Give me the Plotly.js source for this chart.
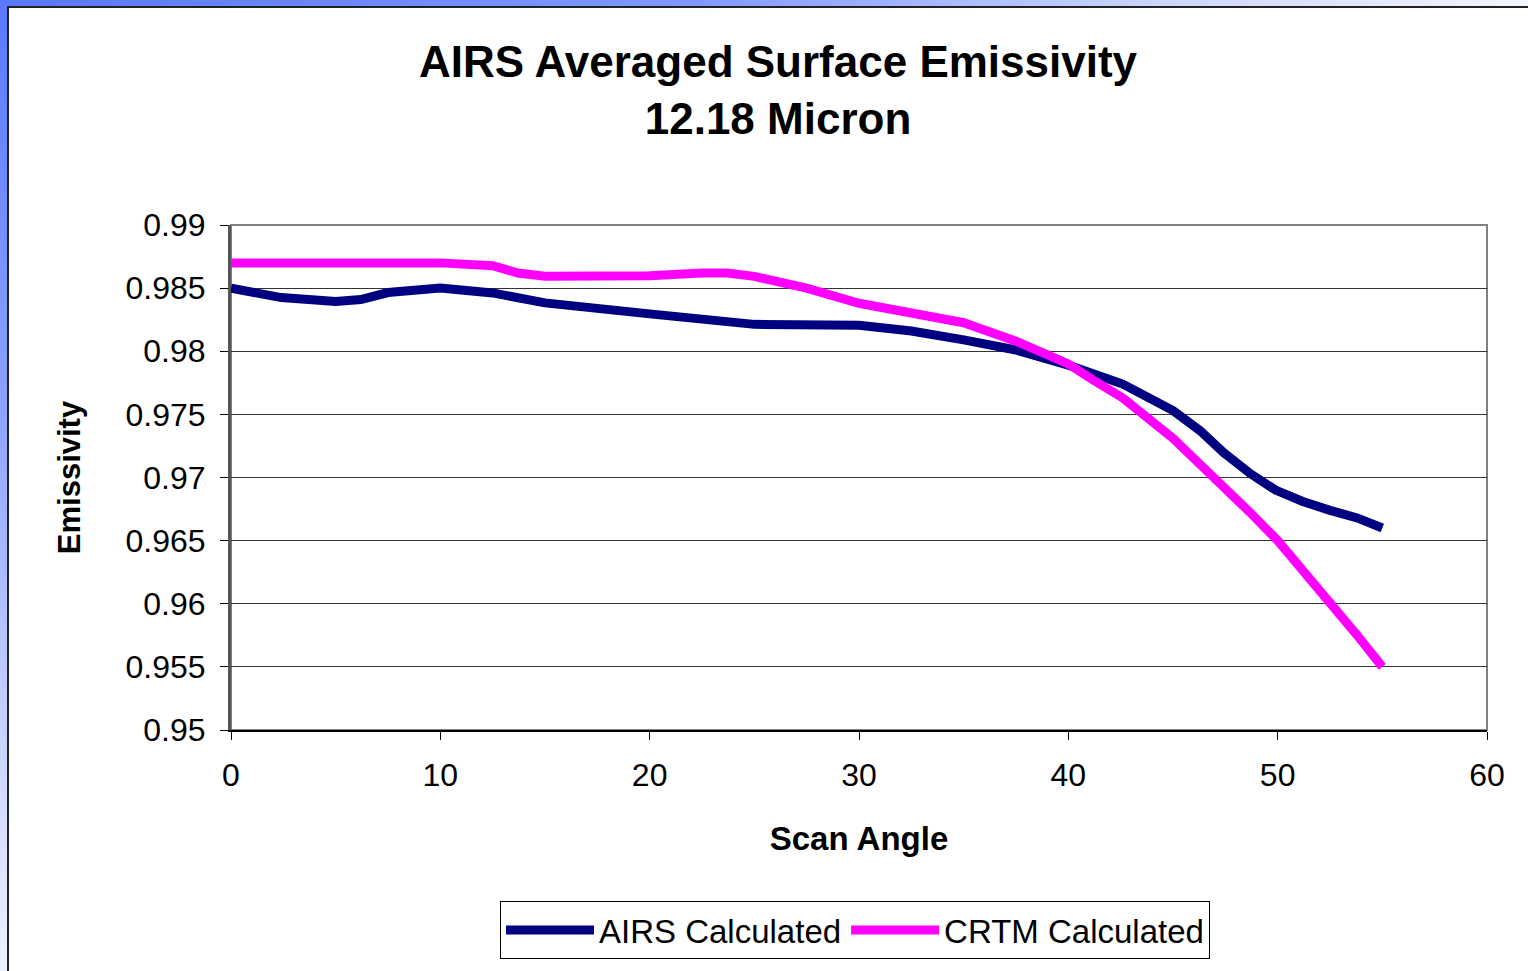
<!DOCTYPE html>
<html>
<head>
<meta charset="utf-8">
<script src="https://cdn.plot.ly/plotly-3.0.1.min.js"></script>
<style>
  html, body { margin: 0; padding: 0; background: #ffffff; width: 1528px; height: 971px; overflow: hidden; }
  #topstrip { position: absolute; left: 0; top: 0; width: 1528px; height: 6px;
    background: linear-gradient(to right, #5a78ff 0%, #7f98ff 45%, #c9d4ff 75%, #f4f6ff 100%); }
  #leftstrip { position: absolute; left: 0; top: 0; width: 7px; height: 971px;
    background: linear-gradient(to bottom, #5a78ff 0%, #8aa0ff 40%, #c8d2ff 75%, #eef1ff 100%); }
  #topline { position: absolute; left: 7px; top: 6px; width: 1521px; height: 2px; background: #222; }
  #leftline { position: absolute; left: 7px; top: 6px; width: 2px; height: 965px; background: #222; }
  #chart { position: absolute; left: 0; top: 0; width: 1528px; height: 971px; }
</style>
</head>
<body>
<div id="topstrip"></div>
<div id="leftstrip"></div>
<div id="topline"></div>
<div id="leftline"></div>
<div id="chart"></div>
<script>
// Data
const airsAngle = [0, 2.4, 5, 6.2, 7.5, 10, 12.5, 15, 20, 25, 30, 32.5, 35, 37.5, 40, 42.6, 45, 46.3, 47.4, 48.7, 49.9, 51.2, 52.5, 53.8, 55];
const airsEmis  = [0.985, 0.98425, 0.98395, 0.9841, 0.98465, 0.985, 0.98462, 0.98383, 0.98296, 0.98213, 0.98205, 0.9816, 0.9809, 0.9801, 0.9789, 0.9774, 0.9753, 0.9737, 0.9720, 0.9703, 0.9690, 0.9681, 0.9674, 0.9668, 0.9660];

const crtmAngle = [0, 2.5, 5, 7.5, 10, 12.5, 13.7, 15, 17.5, 20, 22.5, 23.7, 25, 27.5, 30, 32.5, 35, 37.5, 40, 41.2, 42.6, 45, 46.3, 47.4, 48.7, 50, 51.2, 52.5, 53.8, 55];
const crtmEmis  = [0.987, 0.987, 0.987, 0.987, 0.987, 0.98677, 0.9862, 0.98595, 0.98598, 0.98598, 0.9862, 0.9862, 0.98593, 0.9850, 0.9838, 0.9830, 0.98226, 0.9808, 0.9790, 0.9777, 0.9763, 0.9731, 0.9711, 0.9694, 0.9672, 0.9650, 0.9627, 0.9600, 0.9575, 0.9550];

const seriesNames = ["AIRS Calculated", "CRTM Calculated"];
const titleText = "AIRS Averaged Surface Emissivity<br>12.18 Micron";
const xTitle = "Scan Angle";
const yTitle = "Emissivity";

const FONT = "Liberation Sans, Arial, sans-serif";

const traces = [
  { x: airsAngle, y: airsEmis, name: seriesNames[0], type: "scatter", mode: "lines",
    line: { color: "#000080", width: 9, shape: "linear" } },
  { x: crtmAngle, y: crtmEmis, name: seriesNames[1], type: "scatter", mode: "lines",
    line: { color: "#ff00ff", width: 9, shape: "linear" } }
];

const layout = {
  width: 1528, height: 971,
  paper_bgcolor: "rgba(0,0,0,0)",
  plot_bgcolor: "#ffffff",
  margin: { l: 231, r: 41, t: 225, b: 238, pad: 0 },
  font: { family: FONT, color: "#000000" },
  title: {
    text: titleText,
    font: { family: FONT, size: 44, color: "#000000", weight: "bold" },
    x: 778 / 1528, xanchor: "center", xref: "container",
    y: 1 - 77 / 971, yanchor: "top", yref: "container"
  },
  xaxis: {
    range: [0, 60], dtick: 10, tick0: 0,
    showgrid: false, zeroline: false,
    showline: true, linecolor: "#000000", linewidth: 2,
    ticks: "outside", ticklen: 8, tickcolor: "#000000", tickwidth: 1,
    ticklabelstandoff: 8,
    tickfont: { family: FONT, size: 32, color: "#000000" },
    title: { text: xTitle, font: { family: FONT, size: 33, color: "#000000", weight: "bold" }, standoff: 34 }
  },
  yaxis: {
    range: [0.95, 0.99], dtick: 0.005, tick0: 0.95,
    showgrid: true, gridcolor: "#333333", gridwidth: 1, zeroline: false,
    showline: true, linecolor: "#555555", linewidth: 3,
    ticks: "outside", ticklen: 8, tickcolor: "#000000", tickwidth: 1,
    ticklabelstandoff: 8,
    tickfont: { family: FONT, size: 32, color: "#000000" },
    title: { text: yTitle, font: { family: FONT, size: 31, color: "#000000", weight: "bold" }, standoff: 36 }
  },
  shapes: [
    { type: "rect", xref: "paper", yref: "paper", x0: 0, x1: 1, y0: 0, y1: 1,
      line: { color: "#808080", width: 2 }, fillcolor: "rgba(0,0,0,0)", layer: "below" }
  ],
  showlegend: true,
  legend: {
    orientation: "h",
    x: 0.4968, xanchor: "center",
    y: -0.3386, yanchor: "top",
    bgcolor: "#ffffff", bordercolor: "#000000", borderwidth: 1,
    font: { family: FONT, size: 33, color: "#000000" },
    itemwidth: 88
  }
};

Plotly.newPlot("chart", traces, layout, { displayModeBar: false, staticPlot: true });
</script>
</body>
</html>
